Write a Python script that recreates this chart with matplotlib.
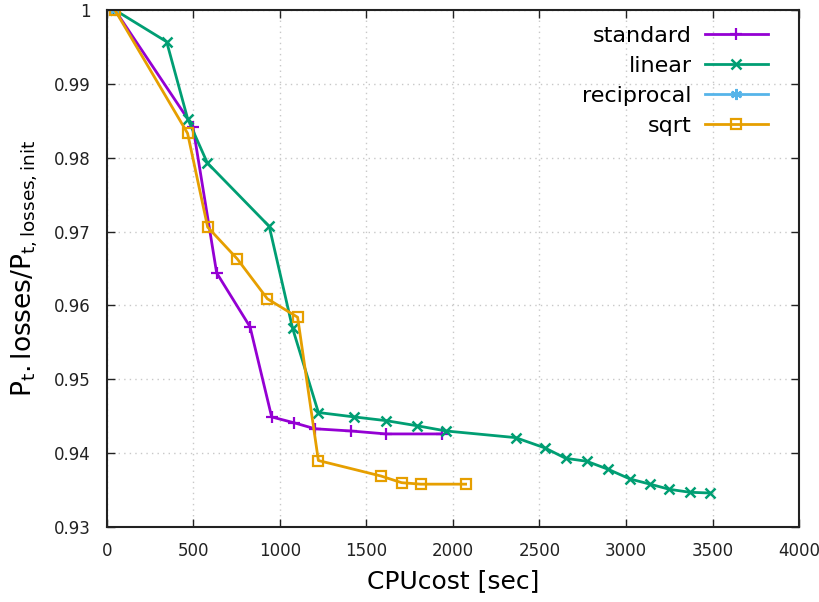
import matplotlib
matplotlib.use("Agg")
import matplotlib.pyplot as plt

# CPU cost [sec] and normalised losses for each update rule
std_x = [46, 497, 634, 827, 952, 1083, 1202, 1409, 1613, 1935]
std_y = [1.0, 0.9842, 0.9644, 0.9571, 0.9449, 0.9441, 0.9433, 0.9430, 0.9426, 0.9426]

lin_x = [46, 345, 466, 580, 938, 1073, 1222, 1430, 1613, 1794, 1960, 2362,
         2532, 2651, 2773, 2898, 3023, 3139, 3251, 3370, 3486]
lin_y = [1.0, 0.9957, 0.9853, 0.9793, 0.9707, 0.9569, 0.9455, 0.9449, 0.9444,
         0.9437, 0.9430, 0.9421, 0.9407, 0.9393, 0.9389, 0.9378, 0.9365,
         0.9358, 0.9351, 0.9347, 0.9346]

rec_x = [46]
rec_y = [1.0]

sqrt_x = [46, 466, 582, 753, 927, 1102, 1222, 1584, 1703, 1813, 2073]
sqrt_y = [1.0, 0.9833, 0.9706, 0.9663, 0.9609, 0.9584, 0.9390, 0.9369,
          0.9360, 0.9358, 0.9358]

xticks = [0, 500, 1000, 1500, 2000, 2500, 3000, 3500, 4000]
yticks = [0.93, 0.94, 0.95, 0.96, 0.97, 0.98, 0.99, 1.0]
ytick_labels = ["0.93", "0.94", "0.95", "0.96", "0.97", "0.98", "0.99", "1"]

fig = plt.figure(figsize=(8.19, 6.02), dpi=100)
ax = fig.add_axes([0.1306, 0.1246, 0.8450, 0.8588])

ax.plot(std_x, std_y, color="#9400d3", lw=2, marker="+", ms=9, mew=1.6, label="standard")
ax.plot(lin_x, lin_y, color="#009e73", lw=2, marker="x", ms=7, mew=1.8, label="linear")
ax.plot(rec_x, rec_y, color="#56b4e9", lw=2, marker=(6, 2, 0), ms=8, mew=1.6, label="reciprocal")
ax.plot(sqrt_x, sqrt_y, color="#e69f00", lw=2, marker="s", ms=7, mew=1.6,
        mfc="none", label="sqrt")

ax.set_xlim(0, 4000)
ax.set_ylim(0.93, 1.0)
ax.set_xticks(xticks)
ax.set_yticks(yticks)
ax.set_yticklabels(ytick_labels)
ax.tick_params(direction="in", top=True, right=True, labelsize=12, length=6,
               width=1, colors="#222222")
ax.tick_params(axis="y", pad=12)
ax.tick_params(axis="x", pad=11)
ax.grid(True, linestyle=(0, (1, 3)), color="#c8c8c8", linewidth=1)
for s in ax.spines.values():
    s.set_linewidth(1.5)
    s.set_color("#222222")

ax.set_xlabel("CPUcost [sec]", fontsize=18, labelpad=6)
ax.set_ylabel(r"$\mathregular{P_t.losses/P_{t,losses,init}}$", fontsize=19, labelpad=10)

ax.legend(loc="upper right", bbox_to_anchor=(0.977, 1.0), frameon=False,
          markerfirst=False, fontsize=16, handlelength=2.8, handletextpad=0.6,
          labelspacing=0.45, borderaxespad=0.3)

fig.savefig("out.png", dpi=100)
